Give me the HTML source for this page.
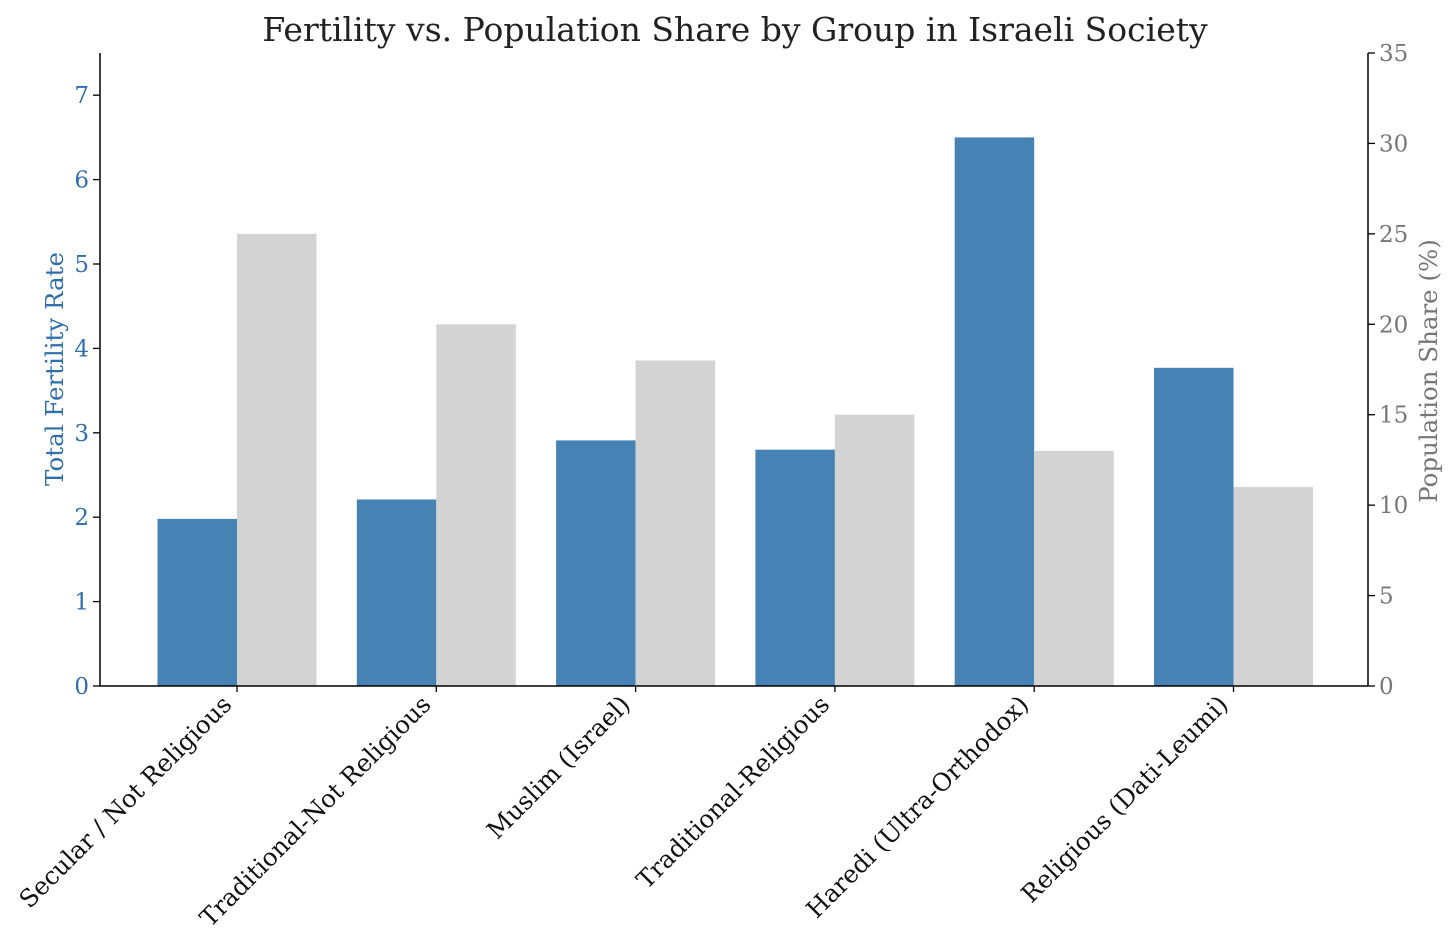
<!DOCTYPE html>
<html><head><meta charset="utf-8"><style>
html,body{margin:0;padding:0;background:#fff;}
svg{display:block;font-family:"DejaVu Serif","Liberation Serif",serif;}
</style></head><body>
<svg id="chart" width="1456" height="950" xmlns="http://www.w3.org/2000/svg"></svg>
<script>
const categories = ["Secular / Not Religious","Traditional-Not Religious","Muslim (Israel)","Traditional-Religious","Haredi (Ultra-Orthodox)","Religious (Dati-Leumi)"];
const fertility = [1.98, 2.21, 2.91, 2.8, 6.5, 3.77];
const popShare = [25, 20, 18, 15, 13, 11];
const leftTicks = [0,1,2,3,4,5,6,7];
const rightTicks = [0,5,10,15,20,25,30,35];

const NS="http://www.w3.org/2000/svg";
const svg=document.getElementById('chart');
const X0=100,X1=1368,Y0=686,Ytop=53;
const yL=v=>Y0-(Y0-Ytop)*v/7.5;
const yR=v=>Y0-(Y0-Ytop)*v/35;
const xc=i=>237+i*199.3;
const bw=79.5;
function mk(tag,attrs,parent){const e=document.createElementNS(NS,tag);for(const k in attrs)e.setAttribute(k,attrs[k]);(parent||svg).appendChild(e);return e;}

const title=mk('text',{x:735,y:41,'text-anchor':'middle','font-size':33,fill:'#222'});
title.textContent="Fertility vs. Population Share by Group in Israeli Society";



categories.forEach((c,i)=>{
  const b=mk('rect',{x:xc(i)-bw,y:yL(fertility[i]),width:bw,height:Y0-yL(fertility[i]),fill:'#4682b4'});
  
  
  const g=mk('rect',{x:xc(i),y:yR(popShare[i]),width:bw,height:Y0-yR(popShare[i]),fill:'#d3d3d3'});
  
  
  const t=mk('text',{transform:`translate(${xc(i)-4},${706}) rotate(-45)`,'text-anchor':'end','font-size':24.5,fill:'#111'});
  t.textContent=c;
  
  
  const tk=mk('line',{x1:xc(i),x2:xc(i),y1:Y0,y2:Y0+6,stroke:'#000','stroke-width':1.3});
  
  
});

leftTicks.forEach(v=>{
  const l=mk('line',{x1:X0-7,x2:X0,y1:yL(v),y2:yL(v),stroke:'#000','stroke-width':1.3});
  
  
  const t=mk('text',{x:X0-11,y:yL(v)+8,'text-anchor':'end','font-size':23,fill:'#2f6fad'});
  t.textContent=v;
  
  
});
rightTicks.forEach(v=>{
  const l=mk('line',{x1:X1,x2:X1+7,y1:yR(v),y2:yR(v),stroke:'#000','stroke-width':1.3});
  
  
  const t=mk('text',{x:X1+11,y:yR(v)+8,'text-anchor':'start','font-size':23,fill:'#777'});
  t.textContent=v;
  
  
});

const axL=mk('line',{x1:X0,x2:X0,y1:Ytop,y2:Y0,stroke:'#000','stroke-width':1.5});


const axR=mk('line',{x1:X1,x2:X1,y1:Ytop,y2:Y0,stroke:'#000','stroke-width':1.5});


const axB=mk('line',{x1:X0,x2:X1,y1:Y0,y2:Y0,stroke:'#000','stroke-width':1.5});



const ylab=mk('text',{transform:'translate(63,369) rotate(-90)','text-anchor':'middle','font-size':24.5,fill:'#2f6fad'});
ylab.textContent="Total Fertility Rate";


const rlab=mk('text',{transform:'translate(1437,371) rotate(-90)','text-anchor':'middle','font-size':24.5,fill:'#777'});
rlab.textContent="Population Share (%)";


</script>
</body></html>
